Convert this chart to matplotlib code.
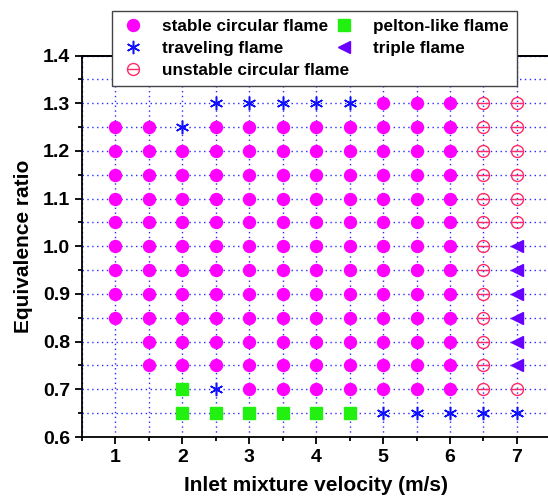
import numpy as np
import matplotlib.pyplot as plt
from matplotlib.ticker import MultipleLocator

plt.rcParams['font.family'] = ['Liberation Sans', 'DejaVu Sans']
plt.rcParams['font.weight'] = 'bold'

# operating points: inlet velocity (m/s) x equivalence ratio
velocity = [1, 1.5, 2, 2.5, 3, 3.5, 4, 4.5, 5, 5.5, 6, 6.5, 7]
ratio = [1.30, 1.25, 1.20, 1.15, 1.10, 1.05, 1.00, 0.95, 0.90, 0.85, 0.80, 0.75, 0.70, 0.65]

# flame regime at each point, one string per ratio row, one char per velocity
# S stable circular, T traveling, U unstable circular, P pelton-like, R triple, . none
regime = [
    "...TTTTTSSSUU",
    "SSTSSSSSSSSUU",
    "SSSSSSSSSSSUU",
    "SSSSSSSSSSSUU",
    "SSSSSSSSSSSUU",
    "SSSSSSSSSSSUU",
    "SSSSSSSSSSSUR",
    "SSSSSSSSSSSUR",
    "SSSSSSSSSSSUR",
    "SSSSSSSSSSSUR",
    ".SSSSSSSSSSUR",
    ".SSSSSSSSSSUR",
    "..PTSSSSSSSUU",
    "..PPPPPPTTTTT",
]


def points(code):
    xs, ys = [], []
    for r, row in zip(ratio, regime):
        for v, c in zip(velocity, row):
            if c == code:
                xs.append(v)
                ys.append(r)
    return xs, ys


fig = plt.figure(figsize=(5.48, 4.97), dpi=100)
ax = fig.add_axes([0.1496, 0.1207, 0.8548, 0.7676])

ax.set_xlim(0.5, 7.5)
ax.set_ylim(0.6, 1.4)
ax.xaxis.set_major_locator(MultipleLocator(1))
ax.xaxis.set_minor_locator(MultipleLocator(0.5))
ax.yaxis.set_major_locator(MultipleLocator(0.1))
ax.yaxis.set_minor_locator(MultipleLocator(0.05))
ax.grid(which='both', color='#2a2aff', linestyle=(0, (1, 2.5)), linewidth=1.0)
ax.set_axisbelow(True)

ms = 8.6
xs, ys = points('S')
h_stable, = ax.plot(xs, ys, 'o', color='#ff00ff', ms=ms, ls='none')
xs, ys = points('T')
h_trav, = ax.plot(xs, ys, marker=(6, 2, 0), color='#1010ff', ms=ms + 1, mew=1.1, ls='none')
xs, ys = points('U')
h_uo, = ax.plot(xs, ys, 'o', mfc='none', mec='#ff2a66', ms=ms, mew=1.0, ls='none')
h_ul, = ax.plot(xs, ys, '_', color='#ff2a66', ms=ms, mew=1.0, ls='none')
xs, ys = points('P')
h_pel, = ax.plot(xs, ys, 's', color='#22f010', ms=ms - 0.6, ls='none')
xs, ys = points('R')
h_tri, = ax.plot(xs, ys, '<', color='#6a00ff', ms=ms + 0.5, ls='none')

for sp in ax.spines.values():
    sp.set_linewidth(1.3)
ax.tick_params(which='major', direction='out', length=5, width=1.3, labelsize=14)
ax.tick_params(which='minor', direction='out', length=3, width=1.3)
for lab in ax.get_xticklabels() + ax.get_yticklabels():
    lab.set_fontweight('bold')

# inward ticks along the top edge
top = ax.secondary_xaxis('top')
top.xaxis.set_major_locator(MultipleLocator(1))
top.xaxis.set_minor_locator(MultipleLocator(0.5))
top.tick_params(which='major', direction='in', length=4, width=1.3, labeltop=False)
top.tick_params(which='minor', direction='in', length=2.5, width=1.3)
top.spines['top'].set_linewidth(1.3)

ax.set_xlabel('Inlet mixture velocity (m/s)', fontsize=15, fontweight='bold', labelpad=7)
ax.set_ylabel('Equivalence ratio', fontsize=15, fontweight='bold', labelpad=7)

handles = [h_stable, h_trav, (h_uo, h_ul), h_pel, h_tri]
labels = ['stable circular flame', 'traveling flame', 'unstable circular flame',
          'pelton-like flame', 'triple flame']
leg = fig.legend(handles, labels, ncol=2, loc='upper left',
                 bbox_to_anchor=(0.204, 0.977), fontsize=12.3, frameon=True,
                 fancybox=False, edgecolor='#444444', framealpha=1,
                 handlelength=1.6, handletextpad=0.9, columnspacing=-1.1,
                 labelspacing=0.42, borderpad=0.45, borderaxespad=0)
leg.set_zorder(5)
leg.get_frame().set_linewidth(1.0)
for t in leg.get_texts():
    t.set_fontweight('bold')

fig.savefig('out.png', dpi=100)
